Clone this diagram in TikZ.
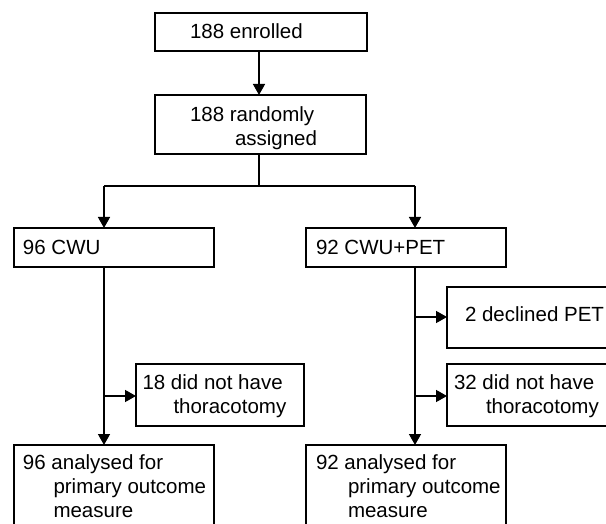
\documentclass[tikz,border=0pt]{standalone}
\usepackage{fontspec}
\setmainfont{Liberation Sans}
\usetikzlibrary{arrows.meta}
\tikzset{
  boxnode/.style={draw=black, line width=2.2pt, rectangle, inner sep=0pt, outer sep=0pt, anchor=north west},
  txt/.style={anchor=base west, inner sep=0pt, outer sep=0pt, font=\fontsize{20.5}{24}\selectfont},
  conn/.style={line width=1.5pt, draw=black},
  arr/.style={conn, -{Triangle[length=11pt,width=12pt]}}
}
\begin{document}
\begin{tikzpicture}[x=1pt,y=-1pt]
\useasboundingbox (0,0) rectangle (606,524);
\clip (0,0) rectangle (606,524);
\fill[white] (0,0) rectangle (606,524);
% boxes
\node[boxnode, minimum width=212pt, minimum height=38pt] (enr) at (155,13) {};
\node[boxnode, minimum width=211pt, minimum height=59pt] (rnd) at (155,95) {};
\node[boxnode, minimum width=200pt, minimum height=39pt] (cwu) at (14,228) {};
\node[boxnode, minimum width=200pt, minimum height=39pt] (pet) at (306,228) {};
\node[boxnode, minimum width=168pt, minimum height=62pt] (nt1) at (136,364) {};
\node[boxnode, minimum width=180pt, minimum height=61pt] (dec) at (447,287) {};
\node[boxnode, minimum width=180pt, minimum height=62pt] (nt2) at (447,364) {};
\node[boxnode, minimum width=200pt, minimum height=100pt] (an1) at (14,445) {};
\node[boxnode, minimum width=200pt, minimum height=100pt] (an2) at (306,445) {};
% texts
\node[txt] (t-enr) at (190,39) {188 enrolled};
\node[txt] (t-rnd1) at (190,122) {188 randomly};
\node[txt] (t-rnd2) at (235,146) {assigned};
\node[txt] (t-cwu) at (23,255) {96 CWU};
\node[txt] (t-pet) at (316,255) {92 CWU+PET};
\node[txt] (t-nt1a) at (142.5,389.5) {18 did not have};
\node[txt] (t-nt1b) at (173.5,413.5) {thoracotomy};
\node[txt] (t-dec) at (465,321) {2 declined PET};
\node[txt] (t-nt2a) at (454,389.5) {32 did not have};
\node[txt] (t-nt2b) at (486,413.5) {thoracotomy};
\node[txt] (t-an1a) at (23,469.5) {96 analysed for};
\node[txt] (t-an1b) at (53.5,493.5) {primary outcome};
\node[txt] (t-an1c) at (53.5,517.5) {measure};
\node[txt] (t-an2a) at (316,469.5) {92 analysed for};
\node[txt] (t-an2b) at (348,493.5) {primary outcome};
\node[txt] (t-an2c) at (348,517.5) {measure};
% connector guide coordinates
\coordinate (cx) at (259,0);
\coordinate (sp) at (259,186);
\coordinate (lx) at (104,0);
\coordinate (rx) at (415,0);
\coordinate (bl1) at (104,396);
\coordinate (br1) at (415,317);
\coordinate (br2) at (415,396);
% connectors
\draw[arr] (enr.south -| cx) -- (rnd.north -| cx);
\draw[conn] (rnd.south -| cx) -- (sp);
\draw[conn] (sp -| lx) -- (sp -| rx);
\draw[arr] (sp -| lx) -- (cwu.north -| lx);
\draw[arr] (sp -| rx) -- (pet.north -| rx);
\draw[arr] (cwu.south -| lx) -- (an1.north -| lx);
\draw[arr] (pet.south -| rx) -- (an2.north -| rx);
\draw[arr] (bl1) -- (bl1 -| nt1.west);
\draw[arr] (br1) -- (br1 -| dec.west);
\draw[arr] (br2) -- (br2 -| nt2.west);
\end{tikzpicture}
\end{document}
